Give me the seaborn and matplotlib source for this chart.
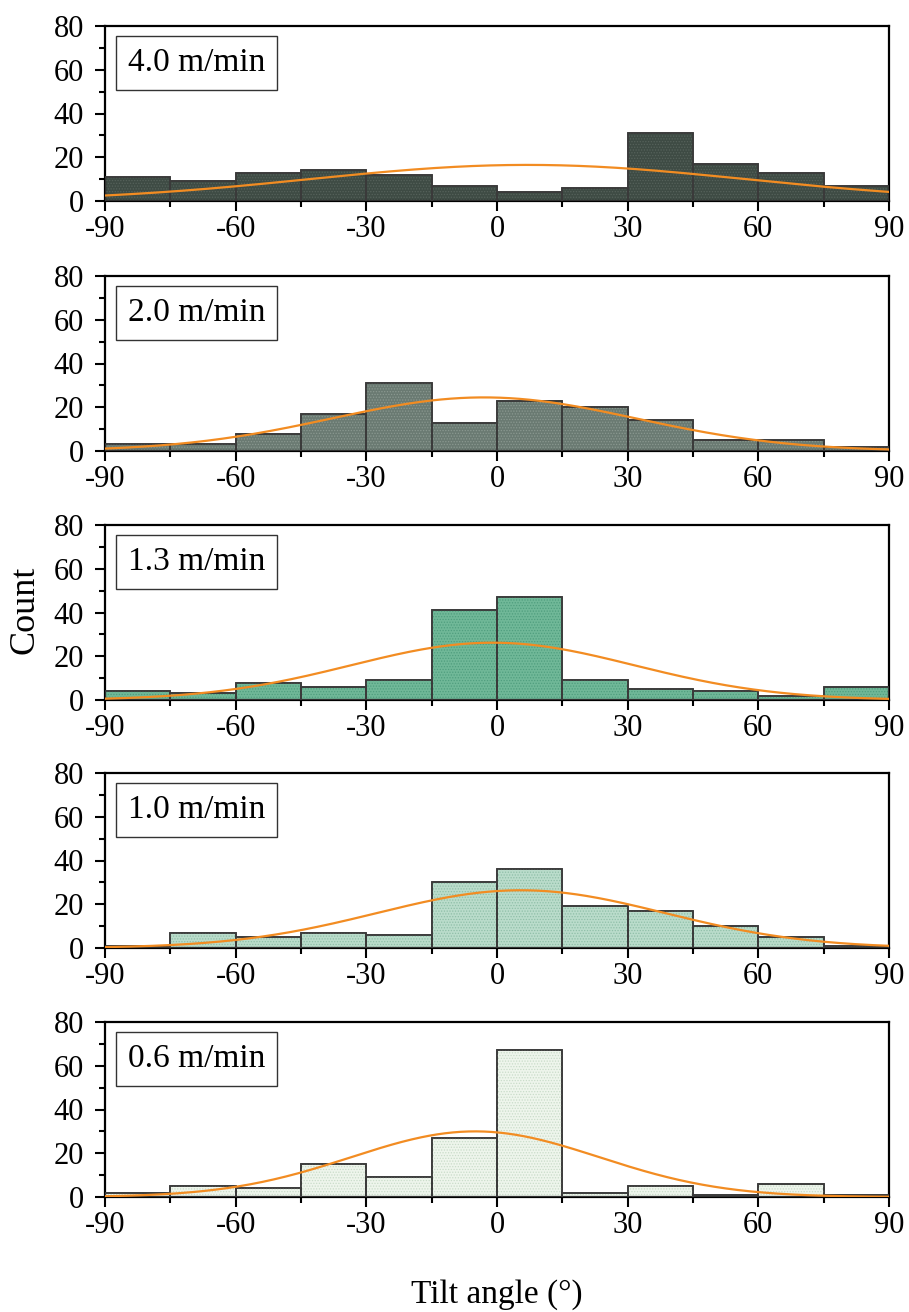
import numpy as np
import pandas as pd
import matplotlib
matplotlib.use("Agg")
import matplotlib.pyplot as plt
from matplotlib.patches import Rectangle
from matplotlib.ticker import MultipleLocator
import seaborn as sns

# Bin edges of the tilt-angle histograms (degrees)
bin_edges = list(range(-90, 91, 15))
bin_centers = [e + 7.5 for e in bin_edges[:-1]]

# Pulling speeds shown in each panel, top to bottom
speeds = ["4.0 m/min", "2.0 m/min", "1.3 m/min", "1.0 m/min", "0.6 m/min"]

# Counts per 15° bin for each speed
counts_40 = [11, 9, 13, 14, 12, 7, 4, 6, 31, 17, 13, 7]
counts_20 = [3, 3, 8, 17, 31, 13, 23, 20, 14, 5, 5, 2]
counts_13 = [4, 3, 8, 6, 9, 41, 47, 9, 5, 4, 2, 6]
counts_10 = [1, 7, 5, 7, 6, 30, 36, 19, 17, 10, 5, 1]
counts_06 = [2, 5, 4, 15, 9, 27, 67, 2, 5, 1, 6, 1]
all_counts = [counts_40, counts_20, counts_13, counts_10, counts_06]

# Gaussian fit parameters (amplitude, centre, sigma) per speed
fit_amp = [16.5, 24.5, 26.2, 26.4, 30.0]
fit_center = [7.0, -3.0, -1.0, 5.5, -5.0]
fit_sigma = [50.0, 35.0, 32.5, 33.0, 28.5]

# Fill colours and dotted hatch colours for each panel
fill_colors = ["#3e4b44", "#6a7a72", "#70b898", "#badccb", "#eef5ec"]
dot_colors = ["#56625b", "#8a9890", "#4f9e7e", "#8fbfa8", "#c9dcc9"]

sns.set_theme(style="ticks")
plt.rcParams["font.family"] = ["Liberation Serif", "DejaVu Serif"]
plt.rcParams["hatch.linewidth"] = 0.6
plt.rcParams["axes.unicode_minus"] = False
plt.rcParams["text.color"] = "black"
plt.rcParams["xtick.labelcolor"] = "black"
plt.rcParams["ytick.labelcolor"] = "black"

W, H = 909, 1312
fig = plt.figure(figsize=(W / 100, H / 100), dpi=100)

left_px, right_px = 105, 889
tops_px = [26, 276, 525, 773, 1022]
height_px = 175

for i, (label, counts) in enumerate(zip(speeds, all_counts)):
    top = tops_px[i]
    ax = fig.add_axes([left_px / W, 1 - (top + height_px) / H,
                       (right_px - left_px) / W, height_px / H])
    df = pd.DataFrame({"angle": bin_centers, "count": counts})
    sns.histplot(data=df, x="angle", weights="count", bins=bin_edges, ax=ax,
                 color=fill_colors[i], alpha=1.0, edgecolor="#3a3a3a",
                 linewidth=1.2, zorder=2)
    # dotted texture and outline on each bar
    for p in list(ax.patches):
        ax.add_patch(Rectangle((p.get_x(), p.get_y()), p.get_width(), p.get_height(),
                               facecolor="none", edgecolor=dot_colors[i],
                               linewidth=0, hatch="......", zorder=2.5))
        ax.add_patch(Rectangle((p.get_x(), p.get_y()), p.get_width(), p.get_height(),
                               facecolor="none", edgecolor="#3a3a3a",
                               linewidth=1.2, zorder=3))
    xs = np.linspace(-90, 90, 400)
    ys = fit_amp[i] * np.exp(-(xs - fit_center[i]) ** 2 / (2 * fit_sigma[i] ** 2))
    sns.lineplot(x=xs, y=ys, ax=ax, color="#f28c22", linewidth=1.6, zorder=4)

    ax.set_xlim(-90, 90)
    ax.set_ylim(0, 80)
    ax.xaxis.set_major_locator(MultipleLocator(30))
    ax.xaxis.set_minor_locator(MultipleLocator(15))
    ax.yaxis.set_major_locator(MultipleLocator(20))
    ax.yaxis.set_minor_locator(MultipleLocator(10))
    ax.tick_params(axis="both", which="major", direction="out", length=7,
                   width=1.5, labelsize=22, color="black", labelcolor="black")
    ax.tick_params(axis="x", which="major", pad=3)
    ax.tick_params(axis="y", which="major", pad=8)
    ax.tick_params(axis="both", which="minor", direction="out", length=4,
                   width=1.5, color="black")
    ax.set_xlabel("")
    ax.set_ylabel("")
    for s in ax.spines.values():
        s.set_visible(True)
        s.set_linewidth(1.6)
        s.set_color("black")
    ax.text(0.029, 0.79, label, transform=ax.transAxes, fontsize=24,
            va="center", ha="left", zorder=6, color="black",
            bbox=dict(boxstyle="square,pad=0.35", facecolor="white",
                      edgecolor="#333333", linewidth=1.0))

fig.text(0.5 * (left_px + right_px) / W, 1 - 1295 / H, "Tilt angle (°)",
         ha="center", va="center", fontsize=24, color="black")
fig.text(25 / W, 1 - 610 / H, "Count", rotation=90, ha="center", va="center",
         fontsize=26, color="black")

fig.savefig("out.png", dpi=100)
